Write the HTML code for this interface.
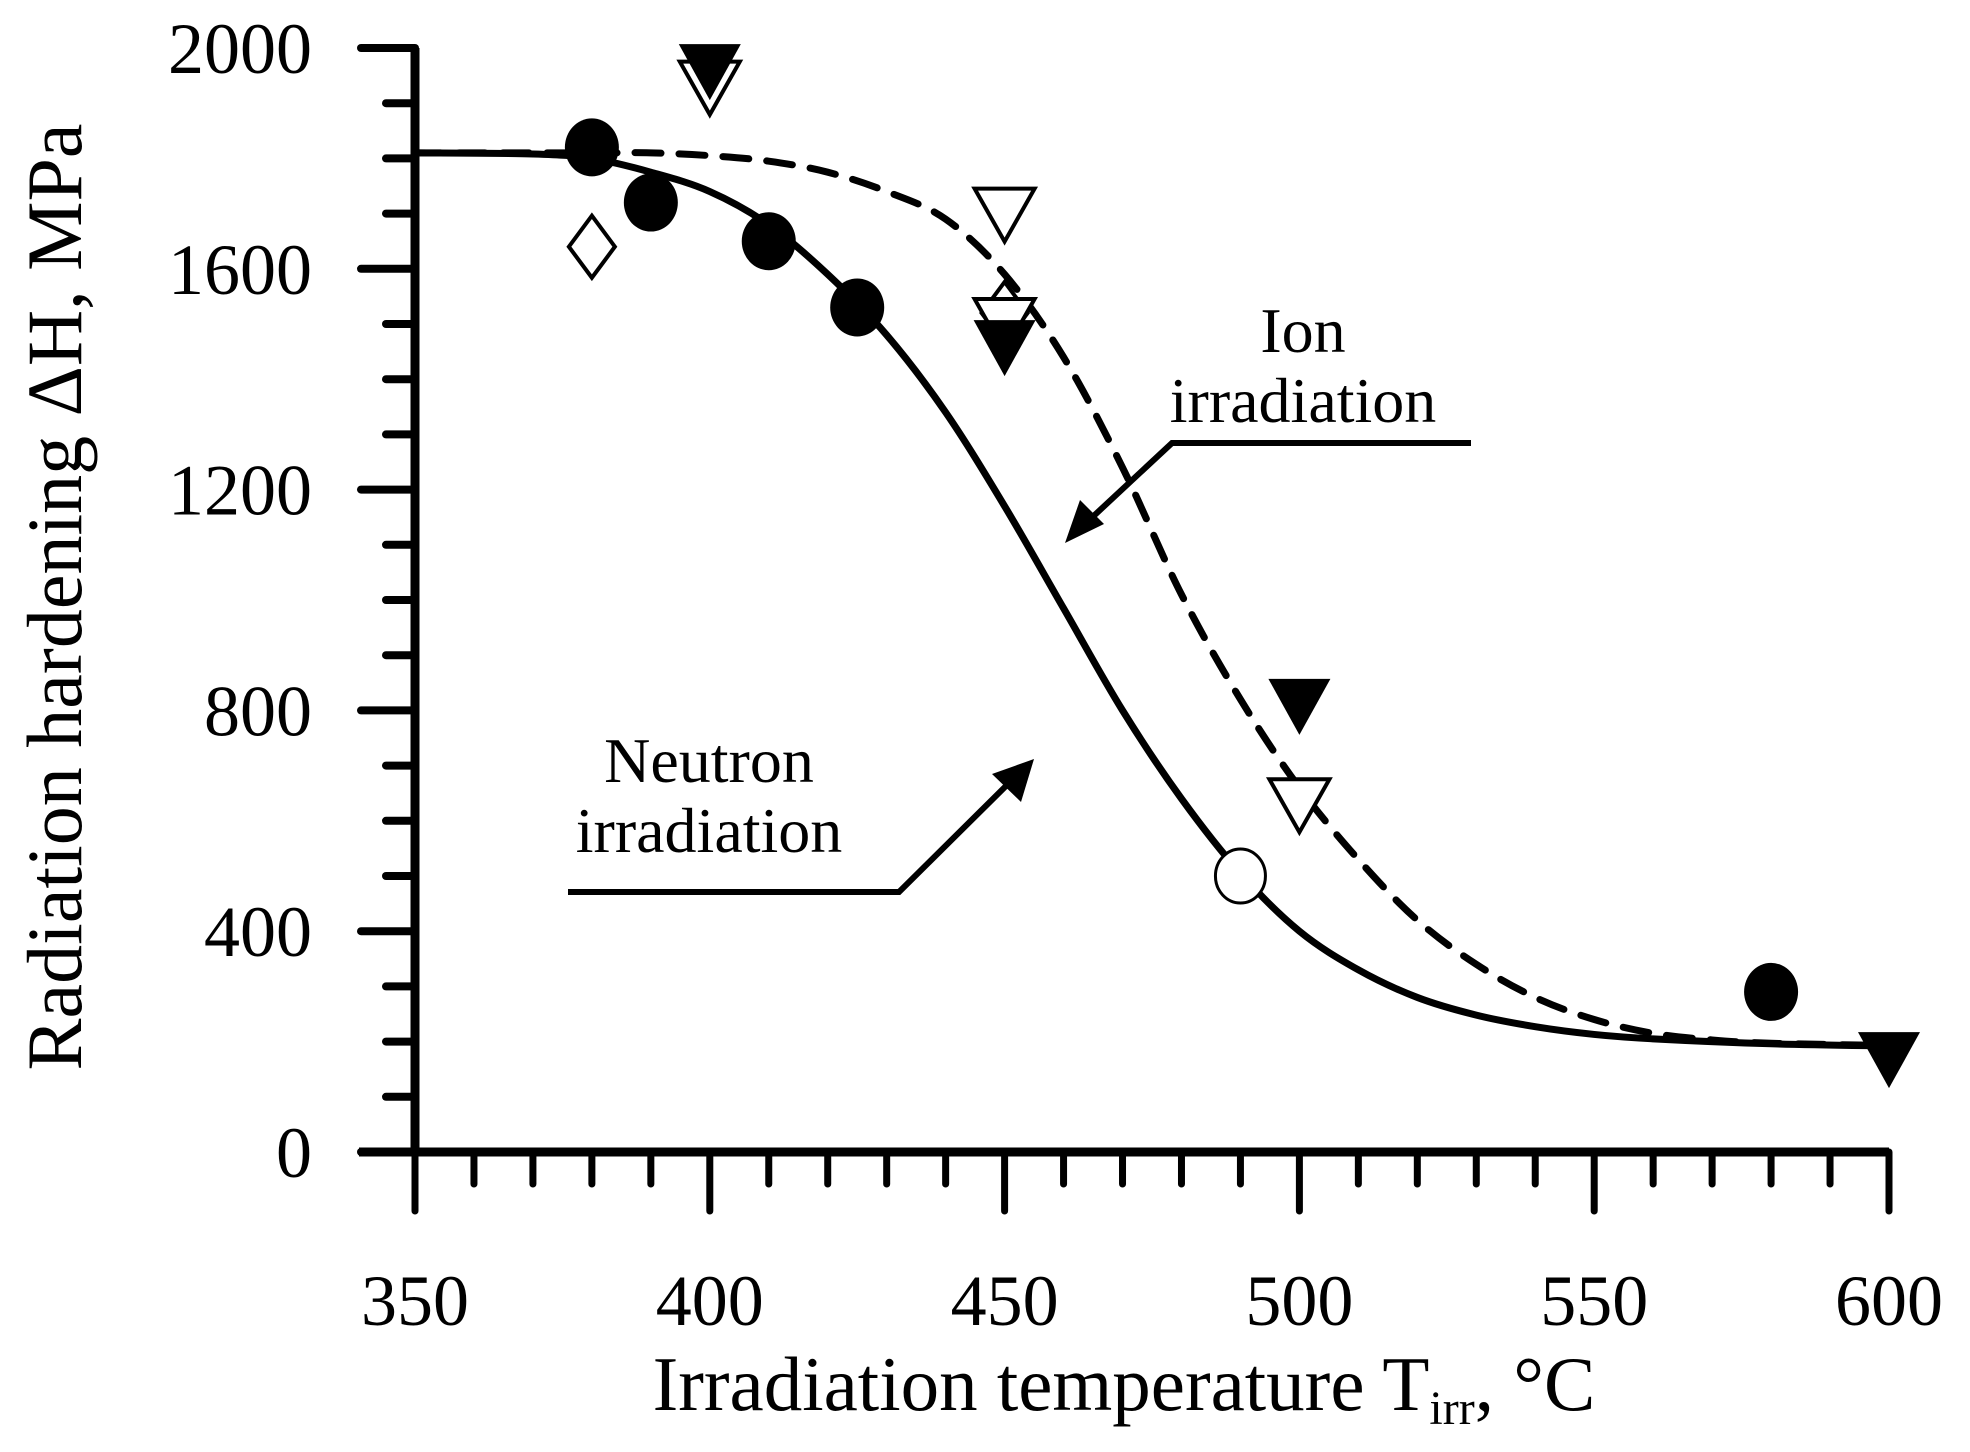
<!DOCTYPE html>
<html><head><meta charset="utf-8"><style>
html,body{margin:0;padding:0;background:#fff;}
svg{display:block;font-family:"Liberation Serif",serif;}
</style></head><body>
<svg id="chart" width="1970" height="1452" viewBox="0 0 1970 1452">
<g id="axes"></g>
<g id="curves"></g>
<g id="marks"></g>
<text x="63" y="597" font-size="78" text-anchor="middle" transform="rotate(-90 63 597)" dominant-baseline="middle">Radiation hardening ΔH, MPa</text>
<text x="1124" y="1410" font-size="77" text-anchor="middle">Irradiation temperature T<tspan font-size="48" dy="14">irr</tspan><tspan dy="-14">, °C</tspan></text>
<g>
<text x="1303" y="352" font-size="64" text-anchor="middle">Ion</text>
<text x="1303" y="422" font-size="64" text-anchor="middle">irradiation</text>
<polyline points="1471,443 1172,443 1085,524" fill="none" stroke="#000" stroke-width="6"/>
<polygon points="1065,543 1080,500 1104,524" fill="#000"/>
</g>
<g>
<text x="709" y="782" font-size="64" text-anchor="middle">Neutron</text>
<text x="709" y="852" font-size="64" text-anchor="middle">irradiation</text>
<polyline points="568,892 899,892 1012,780" fill="none" stroke="#000" stroke-width="6"/>
<polygon points="1034,759 1021,802 992,774" fill="#000"/>
</g>
</svg>
<script>
const xTicks=[350,400,450,500,550,600];
const yTicks=[0,400,800,1200,1600,2000];
const solidT=[350,370,380,390,400,410,420,430,440,450,460,470,480,490,500,510,520,530,540,550,560,580,600];
const solidV=[1810,1808,1800,1775,1740,1680,1590,1480,1340,1170,985,800,640,505,400,330,280,248,227,213,205,196,192];
const dashT=[350,380,390,400,410,420,430,440,450,460,470,480,490,500,510,520,530,540,550,560,570,580,600];
const dashV=[1810,1810,1810,1805,1795,1775,1740,1690,1590,1440,1240,1010,820,660,530,420,340,280,240,215,203,197,193];
const circleT=[380,390,410,425,580];
const circleV=[1820,1720,1650,1530,290];
const openCircleT=[490];
const openCircleV=[500];
const diamondT=[380,450];
const diamondV=[1640,1520];
const openTriT=[400,450,450,500];
const openTriV=[1930,1700,1500,630];
const fillTriT=[400,450,500,600];
const fillTriV=[1960,1460,810,170];

const NS="http://www.w3.org/2000/svg";
const X=t=>415+(t-350)*(1889-415)/250;
const Y=v=>1152-v*(1152-48)/2000;
function mk(tag,attrs,parent){const e=document.createElementNS(NS,tag);for(const k in attrs)e.setAttribute(k,attrs[k]);parent.appendChild(e);return e;}
const axes=document.getElementById('axes');
let e;
e=mk('line',{x1:359,y1:1152,x2:1889,y2:1152,stroke:'#000','stroke-width':9},axes);


e=mk('line',{x1:415,y1:1156,x2:415,y2:48,stroke:'#000','stroke-width':9},axes);


for(let t=350;t<=600;t+=10){const maj=(t%50===0);
 e=mk('line',{x1:X(t),y1:1152,x2:X(t),y2:maj?1211:1184,stroke:'#000','stroke-width':7,'stroke-linecap':'round'},axes);
 
 }
for(let v=0;v<=2000;v+=100){const maj=(v%400===0);
 e=mk('line',{x1:maj?361:386,y1:Y(v),x2:415,y2:Y(v),stroke:'#000','stroke-width':8,'stroke-linecap':'round'},axes);
 
 }
xTicks.forEach(t=>{e=mk('text',{x:X(t),y:1325,'font-size':72,'text-anchor':'middle'},axes);e.textContent=t;
 
 });
yTicks.forEach(v=>{e=mk('text',{x:312,y:Y(v)+25,'font-size':72,'text-anchor':'end'},axes);e.textContent=v;
 
 });
function smooth(T,V){const p=T.map((t,i)=>[X(t),Y(V[i])]);let d=`M${p[0][0]},${p[0][1]}`;
 for(let i=0;i<p.length-1;i++){const p0=p[i-1]||p[i],p1=p[i],p2=p[i+1],p3=p[i+2]||p2;
  d+=` C${p1[0]+(p2[0]-p0[0])/6},${p1[1]+(p2[1]-p0[1])/6} ${p2[0]-(p3[0]-p1[0])/6},${p2[1]-(p3[1]-p1[1])/6} ${p2[0]},${p2[1]}`;}
 return d;}
const cv=document.getElementById('curves');
e=mk('path',{d:smooth(solidT,solidV),fill:'none',stroke:'#000','stroke-width':7},cv);


e=mk('path',{d:smooth(dashT,dashV),fill:'none',stroke:'#000','stroke-width':7,'stroke-dasharray':'26,18','stroke-linecap':'round'},cv);


const mg=document.getElementById('marks');
circleT.forEach((t,i)=>{e=mk('ellipse',{cx:X(t),cy:Y(circleV[i]),rx:27,ry:29,fill:'#000'},mg);
 
 });
openCircleT.forEach((t,i)=>{e=mk('ellipse',{cx:X(t),cy:Y(openCircleV[i]),rx:25,ry:27,fill:'#fff',stroke:'#000','stroke-width':3},mg);
 
 });
diamondT.forEach((t,i)=>{const x=X(t),y=Y(diamondV[i]);e=mk('polygon',{points:`${x},${y-31} ${x+23},${y} ${x},${y+31} ${x-23},${y}`,fill:'#fff',stroke:'#000','stroke-width':4},mg);
 
 });
openTriT.forEach((t,i)=>{const x=X(t),y=Y(openTriV[i]);e=mk('polygon',{points:`${x-30},${y-25} ${x+30},${y-25} ${x},${y+28}`,fill:'#fff',stroke:'#000','stroke-width':4},mg);
 
 });
fillTriT.forEach((t,i)=>{const x=X(t),y=Y(fillTriV[i]);e=mk('polygon',{points:`${x-31},${y-26} ${x+31},${y-26} ${x},${y+30}`,fill:'#000'},mg);
 
 });
</script>
</body></html>
